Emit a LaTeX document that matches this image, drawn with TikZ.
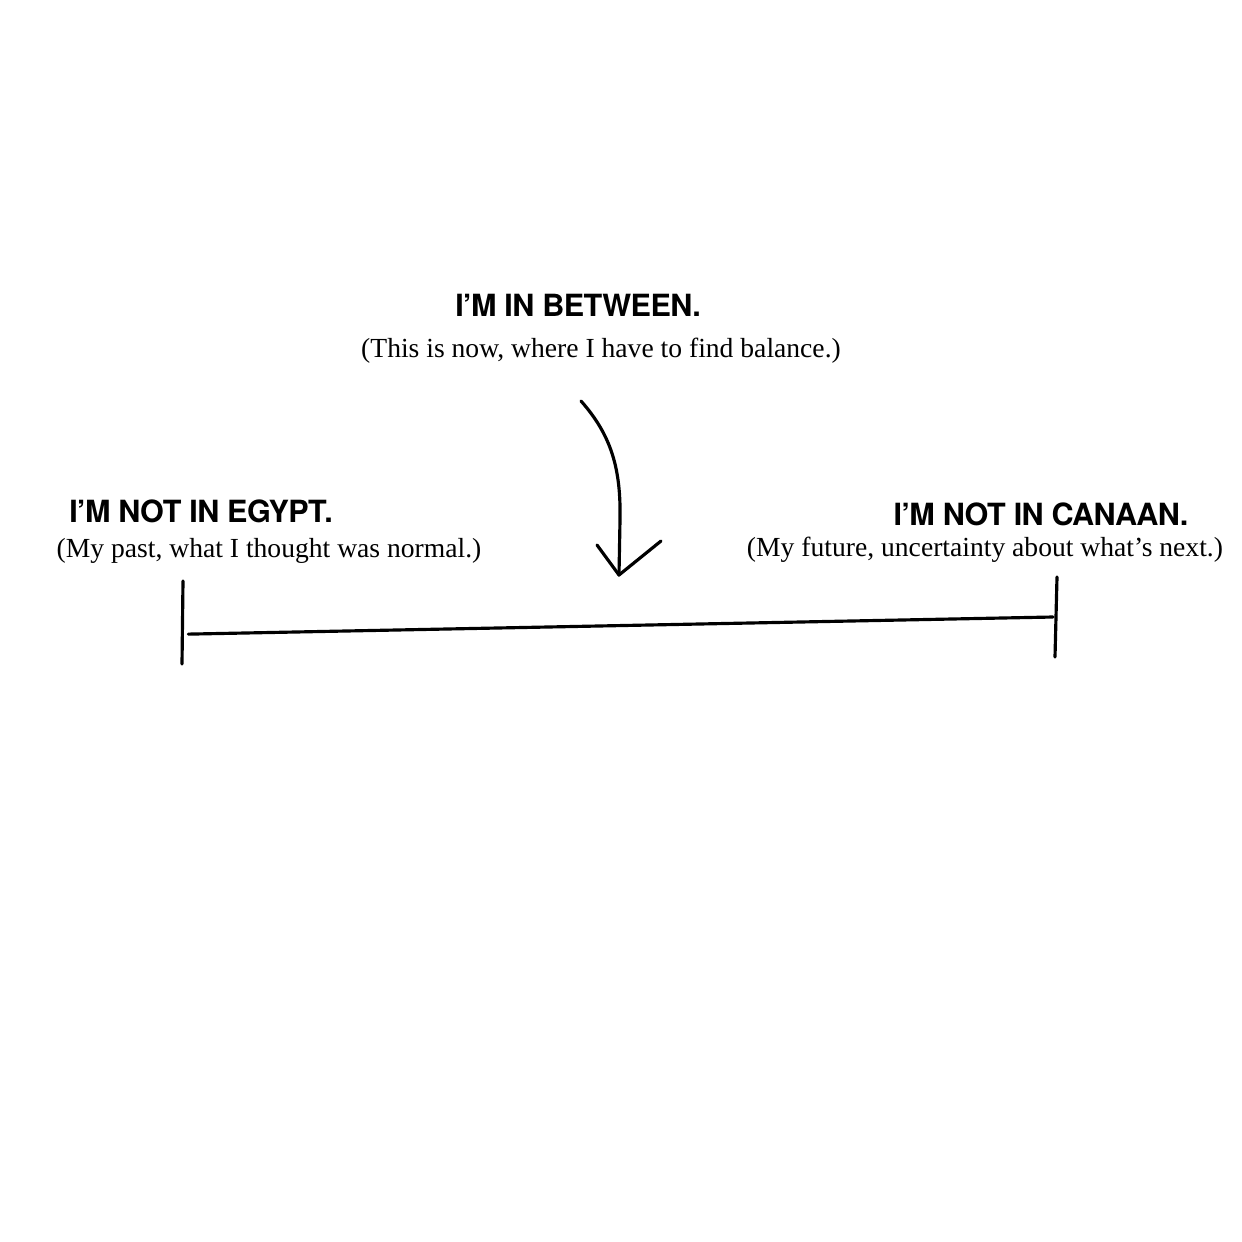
\documentclass[tikz,border=0pt]{standalone}
\usepackage{fontspec}
\setmainfont{Liberation Serif}
\newfontfamily\headfont[LetterSpace=-2]{TeX Gyre Heros}
\usepackage{tikz}
\usetikzlibrary{calc}

\begin{document}
\begin{tikzpicture}[x=0.01cm,y=-0.01cm,
  head/.style={inner sep=0pt,anchor=base,font=\headfont\bfseries\fontsize{8.7}{10}\selectfont},
  note/.style={inner sep=0pt,anchor=base,font=\fontsize{7.85}{9}\selectfont},
  hand/.style={line width=0.9pt,line cap=round,line join=round}
]
  \useasboundingbox (0,0) rectangle (1242,1242);
  % labels
  \node[head] (between) at (578,316) {I’M IN BETWEEN.};
  \node[note] (betweennote) at (601,357) {(This is now, where I have to find balance.)};
  \node[head] (egypt) at (201,522) {I’M NOT IN EGYPT.};
  \node[note] (egyptnote) at (269,557) {(My past, what I thought was normal.)};
  \node[head] (canaan) at (1041,525) {I’M NOT IN CANAAN.};
  \node[note] (canaannote) at (985,556) {(My future, uncertainty about what's next.)};
  % arrow
  \coordinate (arrstart) at (581,401);
  \coordinate (arrtip) at (619,575);
  \coordinate (armL) at (597,545);
  \coordinate (armR) at (661,541);
  \draw[hand] (arrstart) .. controls (612,436) and (621,470) .. (620,520) -- (arrtip);
  \draw[hand] (armL) -- (arrtip) -- (armR);
  % timeline
  \coordinate (leftTop) at (183,581);
  \coordinate (leftBot) at (182,664);
  \coordinate (rightTop) at (1057,577);
  \coordinate (rightBot) at (1055,657);
  \draw[hand] (leftTop) -- (leftBot);
  \draw[hand] (rightTop) -- (rightBot);
  \draw[hand] ($(leftTop)!0.64!(leftBot)+(6,0)$) -- ($(rightTop)!0.5!(rightBot)+(-3,0)$);
\end{tikzpicture}
\end{document}
